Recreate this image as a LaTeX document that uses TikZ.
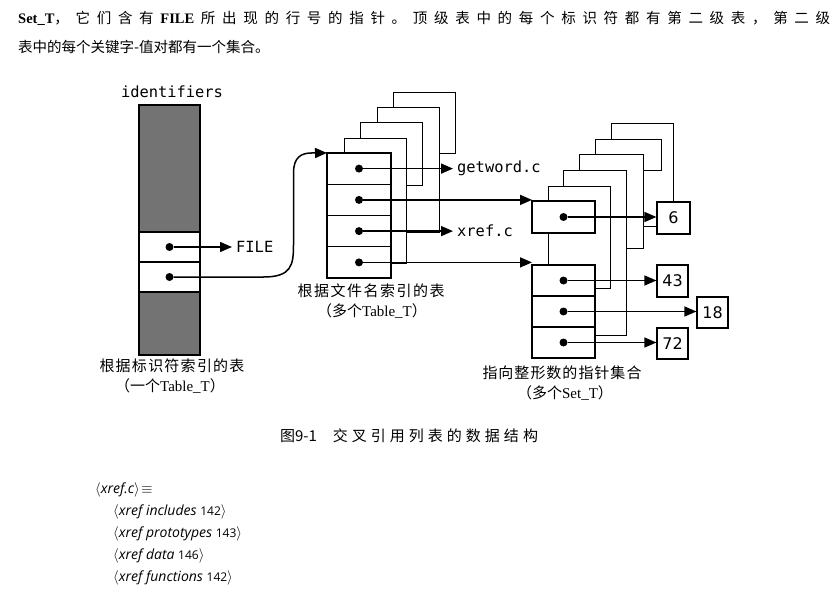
\documentclass[tikz,border=0pt]{standalone}
\usepackage{fontspec}
\setmainfont{Liberation Serif}
\newfontfamily\cjk{Noto Sans CJK SC}
\newfontfamily\monof{DejaVu Sans Mono}
\newfontfamily\numf{DejaVu Sans}
\newfontfamily\codef{Open Sans}
\usetikzlibrary{arrows.meta}
\newcommand\qg{\hspace{0pt plus 1fil}}
\newcommand\cnum[1]{{\upshape\fontsize{12}{12}\selectfont #1}}
\begin{document}
\begin{tikzpicture}[x=1pt,y=-1pt,
  card/.style={draw, fill=white, line width=0.9pt},
  cell/.style={draw, fill=white, line width=1.2pt, minimum width=63pt, minimum height=31pt, inner sep=0pt, outer sep=0pt},
  dot/.style={circle, fill=black, inner sep=0pt, minimum size=8pt},
  arr/.style={line width=1.5pt, -{Triangle[length=12pt,width=10pt]}},
  numbox/.style={draw, fill=white, line width=1.2pt, minimum width=32pt, minimum height=32pt, inner sep=0pt, font=\numf\fontsize{16}{16}\selectfont},
  lbl/.style={font=\cjk\fontsize{15}{15}\selectfont, inner sep=0pt},
  mono/.style={font=\monof\fontsize{15.4}{16}\selectfont, inner sep=0pt},
  code/.style={font=\codef\itshape\fontsize{14}{14}\selectfont, inner sep=0pt, anchor=west}
]
\useasboundingbox[fill=white] (0,0) rectangle (839,599);

% ---------- top text ----------
\node[anchor=west, inner sep=0pt, font=\cjk\fontsize{14.5}{15}\selectfont] (t1) at (18,18)
 {\makebox[812pt][s]{{\rmfamily\bfseries Set\_T}，\qg 它\qg 们\qg 含\qg 有\qg{\rmfamily\bfseries FILE}\qg 所\qg 出\qg 现\qg 的\qg 行\qg 号\qg 的\qg 指\qg 针\qg 。\qg 顶\qg 级\qg 表\qg 中\qg 的\qg 每\qg 个\qg 标\qg 识\qg 符\qg 都\qg 有\qg 第\qg 二\qg 级\qg 表\qg ，\qg 第\qg 二\qg 级}};
\node[anchor=west, inner sep=0pt, font=\cjk\fontsize{14.5}{15}\selectfont] (t2) at (18,47)
 {表中的每个关键字-值对都有一个集合。};

% ---------- identifiers table ----------
\node[mono] (idt) at (172,92) {identifiers};
\fill[black!55] (139,105) rectangle (200,232);
\fill[black!55] (139,292) rectangle (200,355);
\node[cell, minimum width=61pt, minimum height=30pt] (ia) at (169.5,247) {};
\node[cell, minimum width=61pt, minimum height=30pt] (ib) at (169.5,277) {};
\draw[line width=1.3pt] (139,105) rectangle (200,355);
\node[dot] (iad) at (ia.center) {};
\node[dot] (ibd) at (ib.center) {};
\node[mono, anchor=west, inner xsep=4pt] (file) at (232,247) {FILE};

% ---------- middle stack ----------
\draw[card] (393,92) rectangle (455,153);
\draw[card] (377,107) rectangle (439,232);
\draw[card] (360,122) rectangle (422,185);
\draw[card] (344,138) rectangle (406,263);
\node[cell, minimum width=64pt, minimum height=31.25pt] (m1) at (359,168.6) {};
\node[cell, minimum width=64pt, minimum height=31.25pt] (m2) at (359,199.9) {};
\node[cell, minimum width=64pt, minimum height=31.25pt] (m3) at (359,231.1) {};
\node[cell, minimum width=64pt, minimum height=31.25pt] (m4) at (359,262.4) {};
\foreach \i in {1,...,4} {\node[dot] (m\i d) at (m\i.center) {};}
\node[mono, anchor=west, inner xsep=4pt] (gw) at (453,168.6) {getword.c};
\node[mono, anchor=west, inner xsep=4pt] (xr) at (453,231.1) {xref.c};

% ---------- right stack ----------
\draw[card] (611,123) rectangle (673,226);
\draw[card] (595,139) rectangle (661,170);
\draw[card] (579,154) rectangle (643,248);
\draw[card] (563,170) rectangle (626,335);
\draw[card] (548,186) rectangle (610,288);
\node[cell, minimum height=32pt] (s1) at (563.5,217) {};
\node[cell] (s2a) at (563.5,280.5) {};
\node[cell] (s2b) at (563.5,311.5) {};
\node[cell] (s2c) at (563.5,342.5) {};
\foreach \n in {s1,s2a,s2b,s2c} {\node[dot] (\n d) at (\n.center) {};}

\node[numbox, minimum width=33pt] (b6) at (673.5,218) {6};
\node[numbox, minimum width=31pt] (b43) at (672.5,281) {43};
\node[numbox, minimum width=31pt, minimum height=31pt] (b18) at (712.5,312.5) {18};
\node[numbox, minimum width=31pt, minimum height=31pt] (b72) at (672.5,343.5) {72};

% ---------- arrows ----------
\draw[arr] (iad) -- (file.west);
\draw[arr] (ibd) -- ++(94,0) .. controls +(28,0) and +(0,20) .. ++(30,-32)
   -- ++(0,-72) .. controls +(0,-16) and +(-10,0) .. ++(18,-20) -- (m1.north west);
\draw[arr] (m1d) -- (gw.west);
\draw[arr] (m2d) -- (m2d -| s1.west);
\draw[arr] (m3d) -- (xr.west);
\draw[arr] (m4d) -- (m4d -| s2a.west);
\draw[arr] (s1d) -- (s1d -| b6.west);
\draw[arr] (s2ad) -- (s2ad -| b43.west);
\draw[arr] (s2bd) -- (s2bd -| b18.west);
\draw[arr] (s2cd) -- (s2cd -| b72.west);

% ---------- labels ----------
\node[lbl] (l1a) at (172,366) {\makebox[145pt][s]{根\qg 据\qg 标\qg 识\qg 符\qg 索\qg 引\qg 的\qg 表}};
\node[lbl] (l1b) at (170,386) {（一个{\rmfamily Table\_T}）};
\node[lbl] (l2a) at (371,291) {\makebox[147pt][s]{根\qg 据\qg 文\qg 件\qg 名\qg 索\qg 引\qg 的\qg 表}};
\node[lbl] (l2b) at (372,311) {（多个{\rmfamily Table\_T}）};
\node[lbl] (l3a) at (562,373) {\makebox[159pt][s]{指\qg 向\qg 整\qg 形\qg 数\qg 的\qg 指\qg 针\qg 集\qg 合}};
\node[lbl] (l3b) at (565,393) {（多个{\rmfamily Set\_T}）};

\node[lbl] (cap) at (409,436) {\makebox[258pt][s]{图9-1\hspace{12pt plus 1fil}交\qg 叉\qg 引\qg 用\qg 列\qg 表\qg 的\qg 数\qg 据\qg 结\qg 构}};

% ---------- code ----------
\node[code] (c0) at (95,490) {$\langle$xref.c$\rangle\!\equiv$};
\node[code] (c1) at (113,512) {$\langle$xref includes \cnum{142}$\rangle$};
\node[code] (c2) at (113,534) {$\langle$xref prototypes \cnum{143}$\rangle$};
\node[code] (c3) at (113,556) {$\langle$xref data \cnum{146}$\rangle$};
\node[code] (c4) at (113,578) {$\langle$xref functions \cnum{142}$\rangle$};
\end{tikzpicture}
\end{document}
